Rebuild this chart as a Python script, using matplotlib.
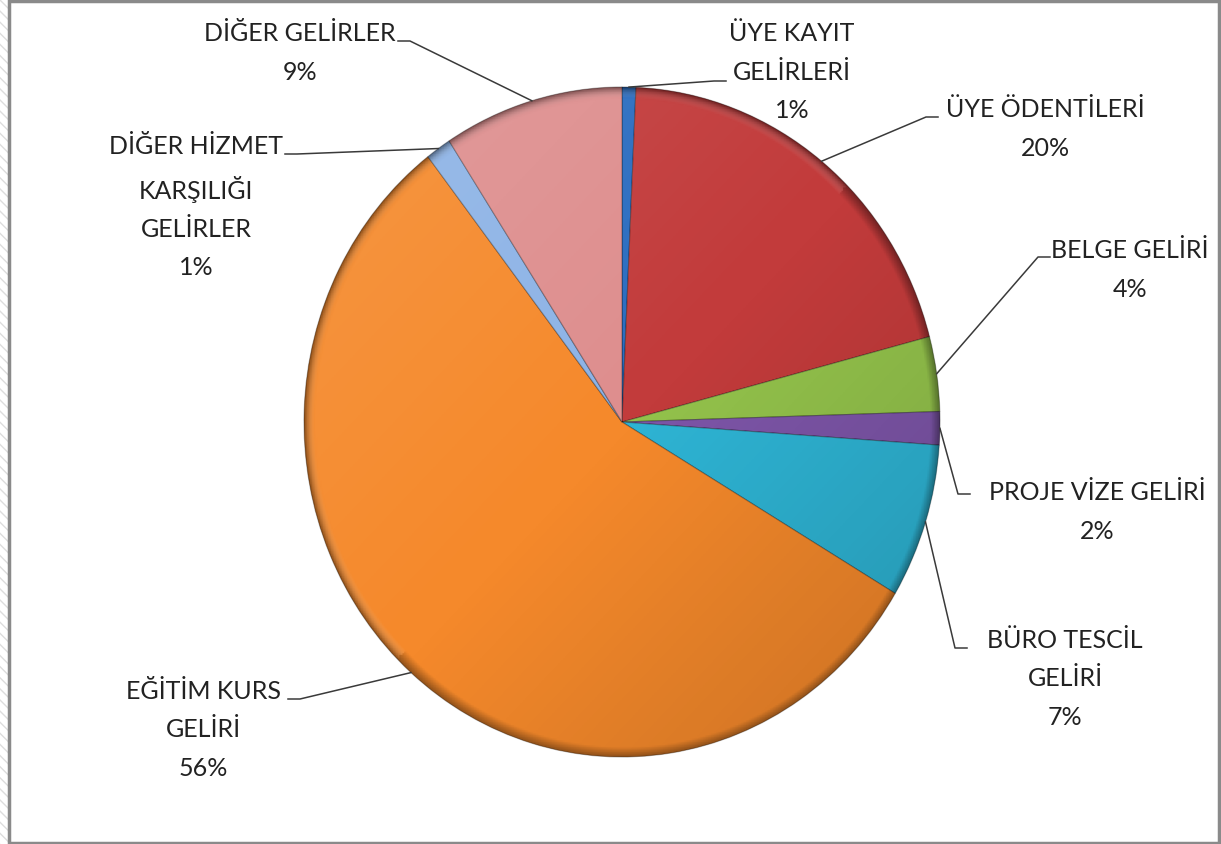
import numpy as np
import matplotlib.pyplot as plt
from matplotlib.patches import Circle, Rectangle

# income shares (percent), clockwise from 12 o'clock
labels = ["ÜYE KAYIT\nGELİRLERİ", "ÜYE ÖDENTİLERİ", "BELGE GELİRİ", "PROJE VİZE GELİRİ",
          "BÜRO TESCİL\nGELİRİ", "EĞİTİM KURS\nGELİRİ", "DİĞER HİZMET\nKARŞILIĞI\nGELİRLER",
          "DİĞER GELİRLER"]
shares = [0.7, 20.2, 3.6, 1.6, 7.45, 56.0, 1.3, 9.15]
colors = ["#2a6cc0", "#c23b3b", "#93c24b", "#7d55a8", "#2eb4d4", "#f5892b", "#8db3e6", "#de8e8e"]

# label block centres and leader attach points (pixels, image coords, y down)
label_xy = [(792, 72), (1045, 129), (1130, 270), (1097, 512), (1065, 679), (203, 730),
            (196, 207), (300, 53)]
attach_xy = [(726, 82), (938, 118), (1050, 258), (970, 495), (967, 649), (288, 700),
             (285, 155), (398, 42)]

W, H = 1221, 845
RX, RY = 318, 335          # pie is slightly stretched vertically in the original
sy = RX / RY


def to_data(x, y):
    return x, (H - y) * sy


cx, cy = to_data(622, 423)
R = RX

plt.rcParams['font.family'] = ['Lato', 'DejaVu Sans']

fig = plt.figure(figsize=(W / 100, H / 100), dpi=100)
ax = fig.add_axes([0, 0, 1, 1])

# frame + hatched strip on the left
fig.patches.append(Rectangle((0, 0), 8 / W, 1, transform=fig.transFigure,
                             facecolor='white', edgecolor='#dddddd', hatch='\\\\\\', lw=0))
fig.patches.append(Rectangle((9 / W, 1 / H), (W - 11) / W, (H - 3) / H, transform=fig.transFigure,
                             facecolor='none', edgecolor='#8a8a8a', lw=2.5))

wedges, _ = ax.pie(shares, colors=colors, startangle=90, counterclock=False,
                   center=(cx, cy), radius=R, frame=True,
                   wedgeprops=dict(edgecolor=(0, 0, 0, 0.3), linewidth=0.8))
ax.set_aspect('auto')

# shading to mimic the bevelled look: light top-left, darker bottom-right, dark rim
n = 400
yy, xx = np.mgrid[-1:1:n * 1j, -1:1:n * 1j]
rr = np.sqrt(xx ** 2 + yy ** 2)
t = (xx + yy) / 2
img = np.zeros((n, n, 4))
light = t < 0
img[light, :3] = 1.0
img[..., 3] = np.where(light, 0.12 * -t, 0.18 * t)
rim = np.clip((rr - 0.965) / 0.035, 0, 1)
img[..., :3] = img[..., :3] * (1 - rim[..., None])
img[..., 3] = np.maximum(img[..., 3], 0.4 * rim)
im = ax.imshow(img, extent=(cx - R, cx + R, cy - R, cy + R), origin='upper', zorder=3,
               aspect='auto')
im.set_clip_path(Circle((cx, cy), R, transform=ax.transData))
ax.set_xlim(0, W)
ax.set_ylim(0, H * sy)
ax.axis('off')

for w, s, lab, (tx, ty), (px, py) in zip(wedges, shares, labels, label_xy, attach_xy):
    mid = np.deg2rad((w.theta1 + w.theta2) / 2)
    ex, ey = cx + R * np.cos(mid), cy + R * np.sin(mid)
    px, py = to_data(px, py)
    step = -12 if tx > 622 else 12
    ax.plot([px, px + step, ex], [py, py, ey], color='#3a3a3a', lw=1.1, zorder=5)
    tx, ty = to_data(tx, ty)
    ax.text(tx, ty, lab + "\n" + "%.0f%%" % (s * 100 / sum(shares)),
            ha='center', va='center', multialignment='center', fontsize=18,
            linespacing=1.8, color='#222222', zorder=6)

fig.savefig('out.png', dpi=100)
